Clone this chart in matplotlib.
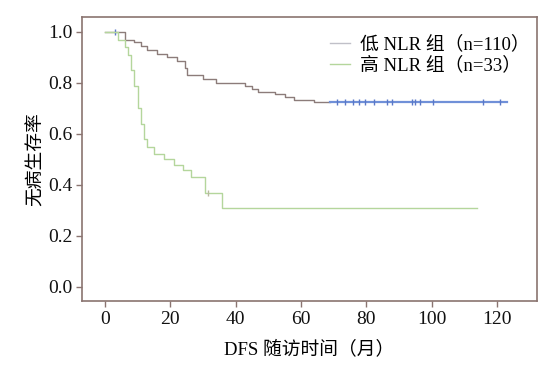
import matplotlib
matplotlib.use("Agg")
import matplotlib.pyplot as plt
from matplotlib.lines import Line2D

plt.rcParams['font.family'] = ['Liberation Serif', 'Noto Sans CJK SC']
plt.rcParams['axes.unicode_minus'] = False

# Kaplan-Meier steps, low NLR group (n=110)
low_t = [0, 6, 9, 11, 13, 16, 19, 22, 24.5, 25, 30, 34, 43, 45, 47, 52, 55, 58, 64, 69]
low_s = [1.0, 0.97, 0.96, 0.945, 0.93, 0.915, 0.90, 0.885, 0.86, 0.83, 0.815, 0.80,
         0.79, 0.775, 0.765, 0.755, 0.745, 0.735, 0.725, 0.725]
low_tail_t = [69, 123]
low_tail_s = [0.725, 0.725]
low_cens_t = [3, 71, 73.5, 76, 77.8, 79.6, 82.3, 86.3, 87.9, 94, 95, 96.5, 100.4, 115.7, 121]
low_cens_s = [1.0] + [0.725] * 14

# Kaplan-Meier steps, high NLR group (n=33)
high_t = [0, 4, 6, 7, 8, 9, 10, 11, 12, 13, 15, 18, 21, 24, 26.5, 30.5, 35.8, 114]
high_s = [1.0, 0.97, 0.94, 0.91, 0.85, 0.79, 0.70, 0.64, 0.58, 0.55, 0.52, 0.50,
          0.48, 0.46, 0.43, 0.37, 0.31, 0.31]
high_cens_t = [31.5]
high_cens_s = [0.37]

low_color = '#8c7c7a'
tail_color = '#7090d8'
high_color = '#b4d69c'
spine_color = '#8a7470'

fig = plt.figure(figsize=(5.47, 3.68), dpi=100)
ax = fig.add_axes([0.150, 0.182, 0.832, 0.772])

ax.step(low_t, low_s, where='post', color=low_color, lw=1.0)
ax.plot(low_tail_t, low_tail_s, color=tail_color, lw=1.6)
ax.plot(low_cens_t, low_cens_s, ls='none', marker='|', ms=4, mew=1.0, color='#5a78c8')

ax.step(high_t, high_s, where='post', color=high_color, lw=1.0)
ax.plot(high_cens_t, high_cens_s, ls='none', marker='|', ms=4, mew=1.0, color='#b8b8a0')

ax.set_xlim(-7, 132.3)
ax.set_ylim(-0.055, 1.059)
ax.set_xticks([0, 20, 40, 60, 80, 100, 120])
ax.set_yticks([0.0, 0.2, 0.4, 0.6, 0.8, 1.0])
ax.set_yticklabels(['0.0', '0.2', '0.4', '0.6', '0.8', '1.0'])

for sp in ax.spines.values():
    sp.set_color(spine_color)
    sp.set_linewidth(1.2)
ax.tick_params(direction='out', length=4, width=1.0, color=spine_color,
               labelsize=14, labelcolor='#111111', pad=3)

ax.set_xlabel('DFS 随访时间（月）', fontsize=13.5, labelpad=9)
ax.set_ylabel('无病生存率', fontsize=13.5, labelpad=2)

handles = [Line2D([], [], color='#c0c0c8', lw=1.0),
           Line2D([], [], color=high_color, lw=1.0)]
ax.legend(handles, ['低 NLR 组（n=110）', '高 NLR 组（n=33）'],
          loc='upper right', bbox_to_anchor=(1.02, 0.995), frameon=False,
          fontsize=13.5, handlelength=1.1, handletextpad=0.5, labelspacing=0.2)

fig.savefig('out.png', dpi=100)
